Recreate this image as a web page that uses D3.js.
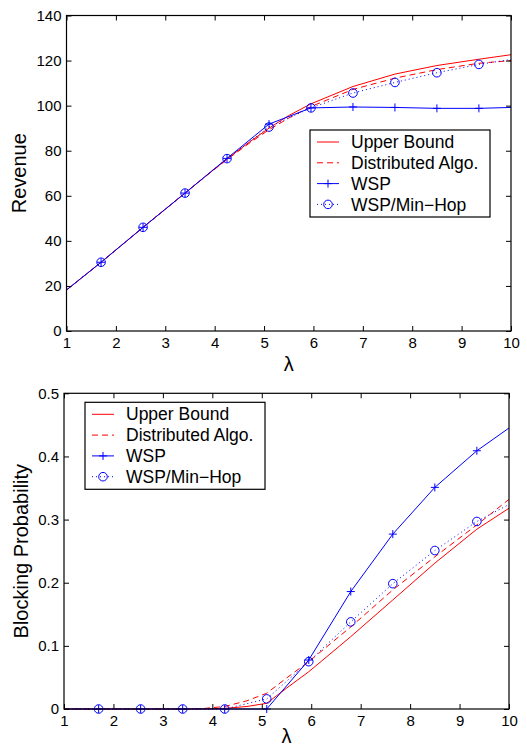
<!DOCTYPE html>
<html>
<head>
<meta charset="utf-8">
<script src="https://cdn.jsdelivr.net/npm/d3@7"></script>
<style>
  body { margin: 0; background: #fff; }
  svg { display: block; font-family: "Liberation Sans", Arial, sans-serif; }
</style>
</head>
<body>
<div id="chart"></div>
<script>
// shared x values
const redLambda = [1, 1.7, 2.55, 3.4, 3.8, 4.25, 4.7, 5.1, 5.5, 5.95, 6.8, 7.65, 8.5, 9.35, 10];
const blueLambda = [1, 1.7, 2.55, 3.4, 4.25, 5.1, 5.95, 6.8, 7.65, 8.5, 9.35, 10];
const markerLambda = [1.7, 2.55, 3.4, 4.25, 5.1, 5.95, 6.8, 7.65, 8.5, 9.35];

// revenue panel
const revUpper = [18.2, 30.5, 46, 61.2, 68.4, 76.3, 83.8, 90, 95.6, 100.8, 108.5, 114, 117.8, 120.6, 122.6];
const revDistributed = [18.2, 30.5, 46, 61.2, 68.3, 76.1, 83.3, 89.3, 94.5, 99.6, 107.2, 112.2, 116, 118.8, 120];
const revWsp = [18.2, 30.5, 46, 61.2, 76.6, 91.8, 99, 99.4, 99.2, 98.8, 98.8, 99.2];
const revMinHop = [18.2, 30.5, 46, 61.2, 76.5, 90.5, 99, 105.6, 110.3, 114.6, 118.3, 120.5];

// blocking probability panel
const blkUpper = [0, 0, 0, 0, 0.0002, 0.001, 0.004, 0.009, 0.033, 0.059, 0.1146, 0.1727, 0.231, 0.2848, 0.318];
const blkDistributed = [0, 0, 0, 0, 0.0006, 0.004, 0.013, 0.025, 0.049, 0.075, 0.13, 0.1886, 0.241, 0.2916, 0.332];
const blkWsp = [0, 0, 0, 0, 0, 0, 0.0776, 0.186, 0.277, 0.351, 0.409, 0.445];
const blkMinHop = [0, 0, 0, 0, 0, 0.016, 0.075, 0.138, 0.1985, 0.251, 0.297, 0.324];

const xTicks = [1, 2, 3, 4, 5, 6, 7, 8, 9, 10];
const revTicks = [0, 20, 40, 60, 80, 100, 120, 140];
const blkTicks = [0, 0.1, 0.2, 0.3, 0.4, 0.5];
const legendLabels = ["Upper Bound", "Distributed Algo.", "WSP", "WSP/Min\u2212Hop"];

const RED = "#ff0000";
const BLUE = "#0000ff";

const svg = d3.select("#chart").append("svg")
  .attr("width", 527)
  .attr("height", 748);

function panel(opts) {
  const { left, right, top, bottom } = opts.box;
  const x = d3.scaleLinear().domain([1, 10]).range([left, right]);
  const y = d3.scaleLinear().domain(opts.yDomain).range([bottom, top]);
  const g = svg.append("g");

  const line = (xs) => d3.line().x((d, i) => x(xs[i])).y((d) => y(d));

  g.append("path").datum(opts.upper).attr("d", line(redLambda))
    .attr("fill", "none").attr("stroke", RED).attr("stroke-width", 1);
  g.append("path").datum(opts.distributed).attr("d", line(redLambda))
    .attr("fill", "none").attr("stroke", RED).attr("stroke-width", 1)
    .attr("stroke-dasharray", "6,4");
  g.append("path").datum(opts.minHop).attr("d", line(blueLambda))
    .attr("fill", "none").attr("stroke", BLUE).attr("stroke-width", 1)
    .attr("stroke-dasharray", "1,3");
  g.append("path").datum(opts.wsp).attr("d", line(blueLambda))
    .attr("fill", "none").attr("stroke", BLUE).attr("stroke-width", 1);

  const markerVal = (arr, lam) => arr[blueLambda.indexOf(lam)];

  g.selectAll("path.plus").data(markerLambda).enter().append("path")
    .attr("d", (lam) => {
      const cx = x(lam), cy = y(markerVal(opts.wsp, lam));
      return `M${cx - 4},${cy}H${cx + 4}M${cx},${cy - 4}V${cy + 4}`;
    })
    .attr("stroke", BLUE).attr("stroke-width", 1);

  g.selectAll("circle.mh").data(markerLambda).enter().append("circle")
    .attr("cx", (lam) => x(lam))
    .attr("cy", (lam) => y(markerVal(opts.minHop, lam)))
    .attr("r", 4.3)
    .attr("fill", "none").attr("stroke", BLUE).attr("stroke-width", 1);

  // axes with inward ticks on all sides
  const style = (sel) => {
    sel.select(".domain").remove();
    sel.selectAll("line").attr("stroke", "#000");
    sel.selectAll("text").attr("fill", "#000").attr("font-size", 15);
  };
  g.append("g").attr("transform", `translate(0,${bottom})`)
    .call(d3.axisBottom(x).tickValues(xTicks).tickSizeInner(-5).tickSizeOuter(0).tickPadding(6))
    .call(style);
  g.append("g").attr("transform", `translate(0,${top})`)
    .call(d3.axisTop(x).tickValues(xTicks).tickSizeInner(-5).tickSizeOuter(0).tickFormat(""))
    .call(style);
  g.append("g").attr("transform", `translate(${left},0)`)
    .call(d3.axisLeft(y).tickValues(opts.yTicks).tickSizeInner(-5).tickSizeOuter(0).tickPadding(5)
      .tickFormat(opts.yFormat))
    .call(style);
  g.append("g").attr("transform", `translate(${right},0)`)
    .call(d3.axisRight(y).tickValues(opts.yTicks).tickSizeInner(-5).tickSizeOuter(0).tickFormat(""))
    .call(style);

  g.append("rect")
    .attr("x", left).attr("y", top)
    .attr("width", right - left).attr("height", bottom - top)
    .attr("fill", "none").attr("stroke", "#000").attr("stroke-width", 1.2);

  g.append("text")
    .attr("x", (left + right) / 2).attr("y", opts.xLabelY)
    .attr("text-anchor", "middle").attr("font-size", 20)
    .text("\u03bb");

  g.append("text")
    .attr("transform", `translate(${opts.yLabelX},${(top + bottom) / 2}) rotate(-90)`)
    .attr("text-anchor", "middle").attr("font-size", 20)
    .text(opts.yLabel);

  // legend
  const L = opts.legend;
  const lg = g.append("g").attr("transform", `translate(${L.x},${L.y})`);
  lg.append("rect").attr("width", L.w).attr("height", L.h)
    .attr("fill", "#fff").attr("stroke", "#000").attr("stroke-width", 1.2);
  const rowY = (i) => 12 + i * 20.8;
  const samples = [
    { stroke: RED, dash: null, marker: null },
    { stroke: RED, dash: "6,4", marker: null },
    { stroke: BLUE, dash: null, marker: "plus" },
    { stroke: BLUE, dash: "1,3", marker: "circle" },
  ];
  samples.forEach((s, i) => {
    const cy = rowY(i);
    lg.append("line").attr("x1", 7).attr("x2", 29).attr("y1", cy).attr("y2", cy)
      .attr("stroke", s.stroke).attr("stroke-width", 1)
      .attr("stroke-dasharray", s.dash);
    if (s.marker === "plus") {
      lg.append("path").attr("d", `M14,${cy}H22M18,${cy - 4}V${cy + 4}`)
        .attr("stroke", BLUE).attr("stroke-width", 1);
    } else if (s.marker === "circle") {
      lg.append("circle").attr("cx", 18).attr("cy", cy).attr("r", 4.3)
        .attr("fill", "none").attr("stroke", BLUE).attr("stroke-width", 1);
    }
    lg.append("text").attr("x", 41).attr("y", cy).attr("dy", "0.35em")
      .attr("font-size", 17.5).attr("fill", "#000")
      .text(legendLabels[i]);
  });
}

panel({
  box: { left: 66.5, right: 511, top: 15.5, bottom: 331 },
  yDomain: [0, 140],
  yTicks: revTicks,
  yFormat: d3.format("d"),
  upper: revUpper,
  distributed: revDistributed,
  wsp: revWsp,
  minHop: revMinHop,
  xLabelY: 371,
  yLabelX: 26,
  yLabel: "Revenue",
  legend: { x: 310, y: 130, w: 180, h: 87 },
});

panel({
  box: { left: 64, right: 509, top: 393.3, bottom: 709 },
  yDomain: [0, 0.5],
  yTicks: blkTicks,
  yFormat: (d) => (d === 0 ? "0" : d3.format(".1f")(d)),
  upper: blkUpper,
  distributed: blkDistributed,
  wsp: blkWsp,
  minHop: blkMinHop,
  xLabelY: 743,
  yLabelX: 28,
  yLabel: "Blocking Probability",
  legend: { x: 85, y: 402.3, w: 180, h: 87 },
});
</script>
</body>
</html>
